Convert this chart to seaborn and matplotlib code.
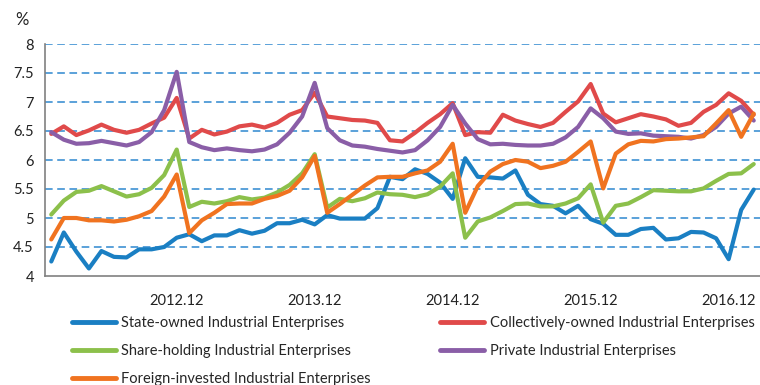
import matplotlib
matplotlib.use("Agg")
import matplotlib.pyplot as plt
import seaborn as sns
import pandas as pd
from matplotlib.lines import Line2D

# Monthly periods (Jan and Feb reported together, so each year starts in Feb)
periods = ([f"2012.{m:02d}" for m in range(2, 13)]
           + [f"{y}.{m:02d}" for y in range(2013, 2017) for m in range(2, 13)]
           + ["2017.02", "2017.03"])

tick_labels = ["2012.12", "2013.12", "2014.12", "2015.12", "2016.12"]

state_owned = [4.25, 4.75, 4.42, 4.13, 4.43, 4.33, 4.32, 4.46, 4.46, 4.50,
               4.66, 4.72, 4.60, 4.70, 4.70, 4.79, 4.73, 4.78, 4.91, 4.91,
               4.97, 4.89, 5.05, 4.99, 4.99, 4.99, 5.17, 5.71, 5.67, 5.84,
               5.76, 5.61, 5.33, 6.03, 5.71, 5.70, 5.68, 5.82, 5.40, 5.24,
               5.21, 5.08, 5.21, 4.98, 4.90, 4.71, 4.71, 4.81, 4.83, 4.63,
               4.65, 4.76, 4.75, 4.65, 4.29, 5.14, 5.49]

collectively_owned = [6.45, 6.58, 6.43, 6.51, 6.61, 6.52, 6.47, 6.52, 6.63, 6.73,
                      7.07, 6.37, 6.52, 6.44, 6.49, 6.58, 6.61, 6.56, 6.64, 6.78,
                      6.86, 7.16, 6.75, 6.72, 6.69, 6.68, 6.64, 6.34, 6.32, 6.47,
                      6.64, 6.79, 6.98, 6.43, 6.48, 6.47, 6.78, 6.68, 6.62, 6.57,
                      6.64, 6.83, 7.01, 7.31, 6.80, 6.65, 6.72, 6.79, 6.75, 6.70,
                      6.59, 6.64, 6.83, 6.95, 7.15, 7.02, 6.78]

share_holding = [5.06, 5.30, 5.45, 5.47, 5.55, 5.46, 5.37, 5.41, 5.52, 5.74,
                 6.18, 5.19, 5.28, 5.25, 5.29, 5.36, 5.32, 5.35, 5.44, 5.57,
                 5.77, 6.10, 5.18, 5.33, 5.29, 5.34, 5.44, 5.41, 5.40, 5.36,
                 5.41, 5.54, 5.77, 4.66, 4.94, 5.01, 5.12, 5.24, 5.25, 5.20,
                 5.20, 5.25, 5.34, 5.58, 4.92, 5.21, 5.25, 5.36, 5.48, 5.47,
                 5.46, 5.46, 5.51, 5.64, 5.76, 5.77, 5.93]

private = [6.48, 6.35, 6.28, 6.29, 6.33, 6.29, 6.25, 6.31, 6.48, 6.86,
           7.52, 6.31, 6.22, 6.17, 6.20, 6.17, 6.15, 6.18, 6.27, 6.47,
           6.75, 7.33, 6.55, 6.34, 6.25, 6.23, 6.19, 6.16, 6.13, 6.17,
           6.34, 6.57, 6.95, 6.63, 6.36, 6.27, 6.28, 6.26, 6.25, 6.25,
           6.28, 6.39, 6.57, 6.89, 6.72, 6.49, 6.45, 6.46, 6.42, 6.41,
           6.40, 6.37, 6.43, 6.57, 6.80, 6.92, 6.68]

foreign_invested = [4.63, 5.00, 5.00, 4.96, 4.96, 4.94, 4.97, 5.03, 5.12, 5.37,
                    5.75, 4.74, 4.96, 5.09, 5.24, 5.25, 5.25, 5.33, 5.38, 5.47,
                    5.70, 6.07, 5.09, 5.24, 5.40, 5.56, 5.70, 5.71, 5.71, 5.77,
                    5.82, 5.97, 6.28, 5.09, 5.55, 5.80, 5.93, 6.00, 5.97, 5.86,
                    5.90, 5.97, 6.14, 6.32, 5.51, 6.11, 6.27, 6.33, 6.32, 6.36,
                    6.37, 6.39, 6.41, 6.63, 6.86, 6.40, 6.80]

series_names = ["State-owned Industrial Enterprises",
                "Collectively-owned Industrial Enterprises",
                "Share-holding Industrial Enterprises",
                "Private Industrial Enterprises",
                "Foreign-invested Industrial Enterprises"]
series_values = [state_owned, collectively_owned, share_holding, private, foreign_invested]
colors = ["#1a7fc3", "#e04a4a", "#8cc04b", "#8a5ea7", "#f07320"]

rows = []
for name, vals in zip(series_names, series_values):
    for i, (p, v) in enumerate(zip(periods, vals)):
        rows.append({"pos": i, "period": p, "series": name, "value": v})
df = pd.DataFrame(rows)

sns.set_style("white")
plt.rcParams["font.family"] = ["Lato", "DejaVu Sans"]

fig = plt.figure(figsize=(7.6, 3.85), dpi=100)
ax = fig.add_axes([45 / 760, 1 - 276 / 385, 1 - 45 / 760, (276 - 44) / 385])

sns.lineplot(data=df, x="pos", y="value", hue="series", hue_order=series_names,
             palette=colors, linewidth=3.0, ax=ax, legend=False, zorder=3)

ax.set_ylim(4, 8)
ax.set_xlim(-0.5, 56.5)
yticks = [4, 4.5, 5, 5.5, 6, 6.5, 7, 7.5, 8]
ax.set_yticks(yticks)
ax.set_yticklabels([f"{t:g}" for t in yticks], fontsize=10.5, color="#222222")
for t in yticks[1:]:
    ax.axhline(t, color="#2e88cf", lw=1.1, ls=(0, (5, 3)), zorder=1)

# category boundary ticks, labels centred on December of each year
ax.set_xticks([i - 0.5 for i in range(len(periods) + 1)])
ax.set_xticklabels([])
ax.tick_params(axis="x", which="major", direction="out", length=5, width=1, color="#808080")
ax.set_xticks([periods.index(t) for t in tick_labels], minor=True)
ax.set_xticklabels(tick_labels, minor=True, fontsize=10.5, color="#222222")
ax.tick_params(axis="x", which="minor", length=0, pad=13)
ax.tick_params(axis="y", direction="out", length=4, width=1, color="#808080", pad=4)

for side in ["top", "right"]:
    ax.spines[side].set_visible(False)
for side in ["left", "bottom"]:
    ax.spines[side].set_color("#808080")
    ax.spines[side].set_linewidth(1.2)
ax.set_xlabel("")
ax.set_ylabel("")

fig.text(22 / 760, 1 - 20 / 385, "%", fontsize=12, color="#222222", ha="center", va="center")

order = [0, 2, 4, 1, 3]
handles = [Line2D([], [], color=colors[i], lw=3.5) for i in order]
labels = [series_names[i] for i in order]
fig.legend(handles, labels, ncol=2, loc="upper left", bbox_to_anchor=(66 / 760, 1 - 310 / 385),
           frameon=False, fontsize=10.5, handlelength=3.0, handletextpad=0.4,
           columnspacing=4.75, labelspacing=0.98, borderaxespad=0)

fig.savefig("out.png", dpi=100)
